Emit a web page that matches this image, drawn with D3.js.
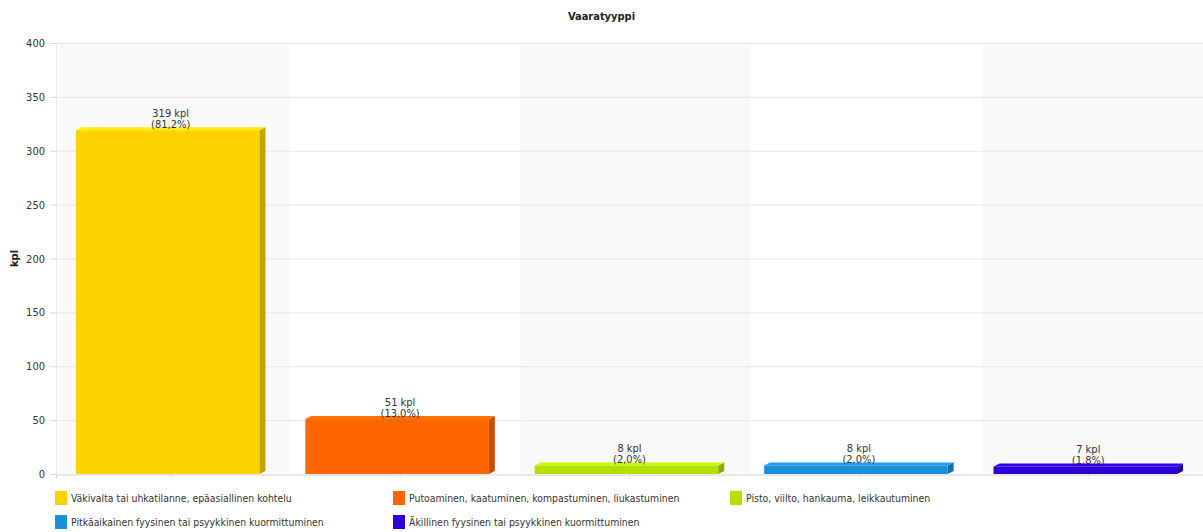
<!DOCTYPE html>
<html>
<head>
<meta charset="utf-8">
<script src="https://cdn.jsdelivr.net/npm/d3@7"></script>
<style>
  body { margin: 0; background: #fff; }
  text { font-family: "DejaVu Sans Condensed", "DejaVu Sans", sans-serif; }
</style>
</head>
<body>
<div id="viz"></div>
<script>
// chart data
var categories = [
    "Väkivalta tai uhkatilanne, epäasiallinen kohtelu",
    "Putoaminen, kaatuminen, kompastuminen, liukastuminen",
    "Pisto, viilto, hankauma, leikkautuminen",
    "Pitkäaikainen fyysinen tai psyykkinen kuormittuminen",
    "Äkillinen fyysinen tai psyykkinen kuormittuminen"
];
var counts = [319, 51, 8, 8, 7];
var percents = ["81,2%", "13,0%", "2,0%", "2,0%", "1,8%"];
var yTicks = [0, 50, 100, 150, 200, 250, 300, 350, 400];

var colors = ["#FCD200", "#FF6600", "#B3E000", "#1B90D8", "#2A00D4"];

var W = 1203, H = 532;
var plot = {left: 56, right: 1203, top: 43, bottom: 474};
var depth = 6, lift = 3;

var svg = d3.select("#viz").append("svg")
    .attr("width", W)
    .attr("height", H);

var x = d3.scaleBand()
    .domain(categories)
    .range([plot.left, plot.right])
    .padding(0);

// the stripes sit a few px right of the category bands (3D offset)
var xStripe = d3.scaleBand()
    .domain(categories)
    .range([plot.left + 3.5, plot.left + 3.5 + 5 * 230.5]);

var y = d3.scaleLinear()
    .domain([0, 400])
    .range([plot.bottom, plot.top]);

svg.append("clipPath").attr("id", "plotclip")
    .append("rect")
    .attr("x", plot.left).attr("y", plot.top)
    .attr("width", plot.right - plot.left).attr("height", plot.bottom - plot.top);

// alternating background stripes
svg.append("g")
    .attr("clip-path", "url(#plotclip)")
    .selectAll("rect")
    .data(categories)
    .enter()
    .append("rect")
    .attr("x", function(d) { return xStripe(d); })
    .attr("y", plot.top)
    .attr("width", xStripe.bandwidth())
    .attr("height", plot.bottom - plot.top)
    .attr("fill", function(d, i) { return i % 2 == 0 ? "#f9f9f9" : "#ffffff"; });

// grid lines + y axis
var yAxis = svg.append("g")
    .attr("transform", "translate(" + plot.left + ",0)")
    .call(d3.axisLeft(y).tickValues(yTicks).tickSize(6).tickPadding(5));
yAxis.select(".domain").attr("stroke", "#e8e8e8");
yAxis.selectAll(".tick line").attr("stroke", "#d8d8d8");
yAxis.selectAll(".tick text")
    .attr("fill", "#333")
    .attr("font-size", "11px")
    .style("font-family", "'DejaVu Sans Condensed', sans-serif");

svg.append("g").selectAll("line")
    .data(yTicks.filter(function(t) { return t > 0; }))
    .enter()
    .append("line")
    .attr("x1", plot.left)
    .attr("x2", plot.right)
    .attr("y1", function(d) { return y(d) + 0.5; })
    .attr("y2", function(d) { return y(d) + 0.5; })
    .attr("stroke", "#e6e6e6");

// x axis baseline with faint ticks
var xAxis = svg.append("g")
    .attr("transform", "translate(0," + (plot.bottom + 0.5) + ")")
    .call(d3.axisBottom(x).tickSize(4).tickFormat(""));
xAxis.select(".domain").attr("stroke", "#d0d0d0");
xAxis.selectAll(".tick line").attr("stroke", "#e4e4e4");

// bars with a little 3D look
var barW = x.bandwidth() * 0.8;
var bars = svg.append("g").selectAll("g")
    .data(categories)
    .enter()
    .append("g");

function bx(d) { return x(d) + x.bandwidth() / 2 - (barW + depth) / 2; }

bars.append("rect")
    .attr("x", function(d) { return bx(d); })
    .attr("y", function(d, i) { return y(counts[i]); })
    .attr("width", barW)
    .attr("height", function(d, i) { return y(0) - y(counts[i]); })
    .attr("fill", function(d, i) { return colors[i]; });

// side face
bars.append("path")
    .attr("d", function(d, i) {
        var x1 = bx(d) + barW, t = y(counts[i]), b = y(0);
        return "M" + x1 + "," + t + "L" + (x1 + depth) + "," + (t - lift) +
               "L" + (x1 + depth) + "," + (b - lift) + "L" + x1 + "," + b + "Z";
    })
    .attr("fill", function(d, i) { return d3.color(colors[i]).darker(0.7); });

// top face
bars.append("path")
    .attr("d", function(d, i) {
        var x0 = bx(d), x1 = x0 + barW, t = y(counts[i]);
        return "M" + x0 + "," + t + "L" + (x0 + depth) + "," + (t - lift) +
               "L" + (x1 + depth) + "," + (t - lift) + "L" + x1 + "," + t + "Z";
    })
    .attr("fill", function(d, i) { return d3.color(colors[i]).brighter(0.3); });

// value labels
var labels = svg.append("g").selectAll("text")
    .data(categories)
    .enter()
    .append("text")
    .attr("text-anchor", "middle")
    .attr("font-size", "11px")
    .attr("fill", "#333")
    .attr("x", function(d) { return bx(d) + (barW + depth) / 2; })
    .attr("y", function(d, i) { return y(counts[i]) - 13; });
labels.append("tspan").text(function(d, i) { return counts[i] + " kpl"; });
labels.append("tspan")
    .attr("x", function(d) { return bx(d) + (barW + depth) / 2; })
    .attr("dy", 11)
    .text(function(d, i) { return "(" + percents[i] + ")"; });

// title
svg.append("text")
    .attr("x", W / 2)
    .attr("y", 20)
    .attr("text-anchor", "middle")
    .attr("font-size", "11px")
    .attr("font-weight", "bold")
    .attr("fill", "#222")
    .text("Vaaratyyppi");

// y axis title
svg.append("text")
    .attr("transform", "translate(18," + ((plot.top + plot.bottom) / 2) + ") rotate(-90)")
    .attr("text-anchor", "middle")
    .attr("font-size", "11px")
    .attr("font-weight", "bold")
    .attr("fill", "#222")
    .text("kpl");

// legend
var legendCols = [55, 393, 730];
var legend = svg.append("g").selectAll("g")
    .data(categories)
    .enter()
    .append("g")
    .attr("transform", function(d, i) {
        return "translate(" + legendCols[i % 3] + "," + (491 + Math.floor(i / 3) * 24) + ")";
    });
legend.append("rect")
    .attr("width", 12)
    .attr("height", 14)
    .attr("fill", function(d, i) { return colors[i]; });
legend.append("text")
    .attr("x", 16)
    .attr("y", 11)
    .attr("font-size", "10.4px")
    .attr("fill", "#333")
    .text(function(d) { return d; });
</script>
</body>
</html>
